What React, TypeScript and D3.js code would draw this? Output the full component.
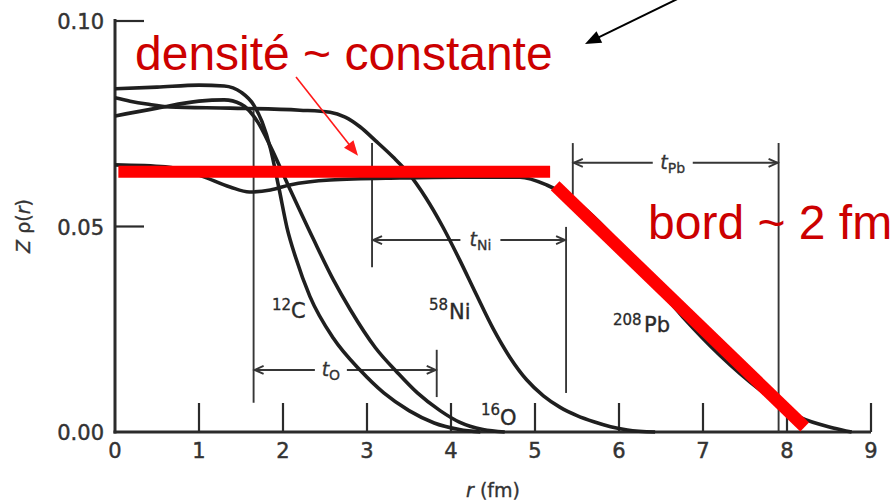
import React from 'react';
import * as d3 from 'd3';

type Pt = [number, number];

const xTicks = [0, 1, 2, 3, 4, 5, 6, 7, 8, 9];
const yTicks = [0, 0.05, 0.1];
const yTickLabels = ['0.00', '0.05', '0.10'];

// [r (fm), Z rho(r)]
const carbon12: Pt[] = [
  [0, 0.0835], [0.5, 0.0839], [1.0, 0.0844], [1.3, 0.0842], [1.5, 0.0827], [1.65, 0.0796],
  [1.75, 0.0755], [1.85, 0.069], [1.95, 0.0595], [2.05, 0.0495], [2.15, 0.0425], [2.32, 0.033],
  [2.6, 0.0228], [2.92, 0.015], [3.2, 0.0095], [3.5, 0.0052], [3.8, 0.0022], [4.1, 0.0006], [4.35, 0],
];
const oxygen16: Pt[] = [
  [0, 0.0769], [0.5, 0.0788], [1.0, 0.0805], [1.3, 0.0808], [1.5, 0.0798], [1.7, 0.0754],
  [1.85, 0.0695], [2.06, 0.0601], [2.36, 0.047], [2.6, 0.037], [2.8, 0.0298], [3.1, 0.0205],
  [3.36, 0.0145], [3.6, 0.0095], [3.87, 0.0052], [4.1, 0.0024], [4.38, 0.0006], [4.64, 0],
];
const nickel58: Pt[] = [
  [0, 0.0813], [0.18, 0.0805], [0.38, 0.0798], [0.65, 0.0791], [1.37, 0.0788], [2.2, 0.0783],
  [2.56, 0.0778], [2.74, 0.0766], [2.92, 0.0742], [3.1, 0.0709], [3.31, 0.0669], [3.5, 0.0628],
  [3.7, 0.057], [3.9, 0.05], [4.1, 0.042], [4.3, 0.0335], [4.5, 0.0252], [4.7, 0.0182],
  [4.9, 0.0127], [5.1, 0.0088], [5.3, 0.006], [5.5, 0.004], [5.7, 0.0025], [5.9, 0.0013],
  [6.1, 0.0005], [6.43, 0],
];
const lead208: Pt[] = [
  [0, 0.065], [0.6, 0.0645], [1.0, 0.0625], [1.37, 0.0596], [1.6, 0.0584], [1.85, 0.0589],
  [2.08, 0.0601], [2.56, 0.0613], [3.39, 0.0618], [4.1, 0.062], [4.82, 0.062], [5.14, 0.0601],
  [5.57, 0.0547], [5.86, 0.0491], [6.31, 0.0387], [6.76, 0.028], [7.2, 0.0187], [7.68, 0.0102],
  [8.15, 0.0036], [8.55, 0.001], [8.77, 0],
];

// dimension markers: [left r, right r, level, leftTop, leftBottom, rightTop, rightBottom, label r]
const dimO = [1.65, 3.83, 0.0151, 0.0783, 0.0071, 0.02, 0.0085, 2.57];
const dimNi = [3.06, 5.37, 0.0467, 0.0703, 0.0401, 0.0499, 0.0095, 4.35];
const dimPb = [5.45, 7.9, 0.0655, 0.0703, 0.0577, 0.0703, 0.0, 6.64];

// red annotation lines
const plateau: Pt[] = [[0.04, 0.0633], [5.18, 0.0633]];
const edge: Pt[] = [[5.24, 0.0599], [8.21, 0.0012]];
const redArrow: Pt[] = [[2.155, 0.0864], [2.893, 0.0672]];
const blackArrow: Pt[] = [[6.82, 0.1066], [5.595, 0.0944]];

const W = 894;
const H = 503;
const FONT = '"DejaVu Sans", sans-serif';
const RED_FONT = '"Liberation Sans", Arial, sans-serif';

export default function App() {
  const x = d3.scaleLinear().domain([0, 9]).range([115, 871]);
  const y = d3.scaleLinear().domain([0, 0.1]).range([432, 21]);
  const line = d3
    .line<Pt>()
    .x((d) => x(d[0]))
    .y((d) => y(d[1]))
    .curve(d3.curveMonotoneX);

  const curveStyle = { fill: 'none', stroke: '#1f1f1f', strokeWidth: 3.6, strokeLinejoin: 'round' as const };
  const dimStroke = '#363636';

  const renderDim = (d: number[], sub: string, gap: number, key: string) => {
    const [l, r, lev, lt, lb, rt, rb, lab] = d;
    const xl = x(l);
    const xr = x(r);
    const yy = y(lev);
    const xc = x(lab);
    const ah = 10;
    const aw = 4;
    return (
      <g key={key} stroke={dimStroke} strokeWidth={1.9} fill="none">
        <line x1={xl} x2={xl} y1={y(lt)} y2={y(lb)} />
        <line x1={xr} x2={xr} y1={y(rt)} y2={y(rb)} />
        <line x1={xl} x2={xc - gap} y1={yy} y2={yy} />
        <line x1={xc + gap} x2={xr} y1={yy} y2={yy} />
        <path d={`M${xl + ah},${yy - aw}L${xl + 1},${yy}L${xl + ah},${yy + aw}`} />
        <path d={`M${xr - ah},${yy - aw}L${xr - 1},${yy}L${xr - ah},${yy + aw}`} />
        <text
          x={xc}
          y={yy + 6}
          textAnchor="middle"
          stroke="#333"
          strokeWidth={0.3}
          fill="#333"
          fontFamily={FONT}
        >
          <tspan fontStyle="italic" fontSize={19}>t</tspan>
          <tspan fontSize={14} dy={4}>{sub}</tspan>
        </text>
      </g>
    );
  };

  const arrow = (p: Pt[], color: string, w: number, hl: number, hw: number, key: string) => {
    const x1 = x(p[0][0]);
    const y1 = y(p[0][1]);
    const x2 = x(p[1][0]);
    const y2 = y(p[1][1]);
    const len = Math.hypot(x2 - x1, y2 - y1);
    const ux = (x2 - x1) / len;
    const uy = (y2 - y1) / len;
    const bx = x2 - ux * hl;
    const by = y2 - uy * hl;
    const px = -uy;
    const py = ux;
    return (
      <g key={key}>
        <line x1={x1} y1={y1} x2={bx + ux * 2} y2={by + uy * 2} stroke={color} strokeWidth={w} />
        <path
          d={`M${x2},${y2}L${bx + px * hw},${by + py * hw}L${bx - px * hw},${by - py * hw}Z`}
          fill={color}
        />
      </g>
    );
  };

  const tickText = { fontFamily: FONT, fontSize: 21, fill: '#333', stroke: '#333', strokeWidth: 0.45 };
  const isoMain = { fontFamily: FONT, fontSize: 21, fill: '#2a2a2a', stroke: '#2a2a2a', strokeWidth: 0.35 };
  const isoSup = { fontFamily: FONT, fontSize: 15, fill: '#2a2a2a', stroke: '#2a2a2a', strokeWidth: 0.3 };

  return (
    <svg
      width={W}
      height={H}
      viewBox={`0 0 ${W} ${H}`}
      style={{ position: 'absolute', left: 0, top: 0, background: '#ffffff', display: 'block' }}
    >
      <rect x={0} y={0} width={W} height={H} fill="#ffffff" />

      {/* axes */}
      <g stroke="#2b2b2b" fill="none">
        <line x1={x(0)} x2={x(0)} y1={y(0.1) - 2} y2={y(0) + 1.5} strokeWidth={3} />
        <line x1={x(0) - 1.5} x2={x(9)} y1={y(0)} y2={y(0)} strokeWidth={3} />
        {yTicks.filter((t) => t > 0).map((t) => (
          <line key={t} x1={x(0)} x2={x(0) + 29} y1={y(t)} y2={y(t)} strokeWidth={2.2} />
        ))}
        {xTicks.filter((t) => t > 0).map((t) => (
          <line key={t} x1={x(t)} x2={x(t)} y1={y(0)} y2={y(0) - 29} strokeWidth={2.2} />
        ))}
      </g>
      {yTicks.map((t, i) => (
        <text key={t} x={x(0) - 11} y={y(t) + 8} textAnchor="end" {...tickText}>
          {yTickLabels[i]}
        </text>
      ))}
      {xTicks.map((t) => (
        <text key={t} x={x(t)} y={y(0) + 26} textAnchor="middle" {...tickText}>
          {t}
        </text>
      ))}
      <text x={493} y={497} textAnchor="middle" fontFamily={FONT} fontSize={19} fill="#333" stroke="#333" strokeWidth={0.35}>
        <tspan fontStyle="italic">r</tspan> (fm)
      </text>
      <text
        transform="translate(30,226) rotate(-90)"
        textAnchor="middle"
        fontFamily={FONT}
        fontSize={19}
        fill="#333"
        stroke="#333"
        strokeWidth={0.35}
      >
        <tspan fontStyle="italic">Z</tspan> ρ(<tspan fontStyle="italic">r</tspan>)
      </text>

      {/* dimension markers */}
      {renderDim(dimO, 'O', 16, 'o')}
      {renderDim(dimNi, 'Ni', 20, 'ni')}
      {renderDim(dimPb, 'Pb', 20, 'pb')}

      {/* density curves */}
      <path d={line(carbon12) || ''} {...curveStyle} />
      <path d={line(oxygen16) || ''} {...curveStyle} />
      <path d={line(nickel58) || ''} {...curveStyle} />
      <path d={line(lead208) || ''} {...curveStyle} />

      {/* isotope labels */}
      <text x={272} y={310} {...isoSup}>12</text>
      <text x={291} y={318} {...isoMain}>C</text>
      <text x={429} y={310} {...isoSup}>58</text>
      <text x={449} y={319} {...isoMain}>Ni</text>
      <text x={481} y={415} {...isoSup}>16</text>
      <text x={500} y={425} {...isoMain}>O</text>
      <text x={613} y={325} {...isoSup}>208</text>
      <text x={644} y={332} {...isoMain}>Pb</text>

      {/* red annotations */}
      <line
        x1={x(plateau[0][0])}
        y1={y(plateau[0][1])}
        x2={x(plateau[1][0])}
        y2={y(plateau[1][1])}
        stroke="#ff0000"
        strokeWidth={12}
      />
      <line
        x1={x(edge[0][0])}
        y1={y(edge[0][1])}
        x2={x(edge[1][0])}
        y2={y(edge[1][1])}
        stroke="#ff0000"
        strokeWidth={12.5}
      />
      {arrow(redArrow, '#ff1a1a', 1.6, 15, 6, 'ra')}
      {arrow(blackArrow, '#000000', 2, 16, 6.5, 'ba')}

      <text x={135} y={70} fontFamily={RED_FONT} fontSize={48} fill="#cc0000">
        densité ~ constante
      </text>
      <text x={648} y={239} fontFamily={RED_FONT} fontSize={48} fill="#cc0000">
        bord ~ 2 fm
      </text>
    </svg>
  );
}
